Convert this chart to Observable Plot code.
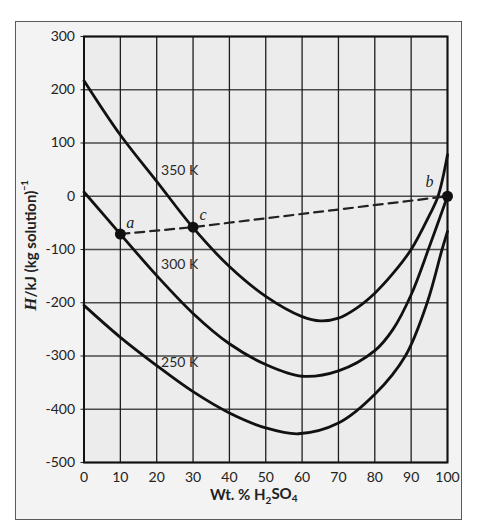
<!DOCTYPE html>
<html>
<head>
<meta charset="utf-8">
<script src="https://cdn.jsdelivr.net/npm/d3@7"></script>
<script src="https://cdn.jsdelivr.net/npm/@observablehq/plot@0.6"></script>
<style>
  html, body { margin: 0; padding: 0; background: #fff; }
  #wrap { position: relative; width: 478px; height: 530px; }
  #panel { position: absolute; left: 15px; top: 21px; width: 445px; height: 497px;
           border: 1px solid #5a5a5a; background: #f3f3f3; }
  #chart { position: absolute; left: 0; top: 0; }
</style>
</head>
<body>
<div id="wrap"><div id="panel"></div><div id="chart"></div></div>
<script>
// Tick values
const xTicks = [0, 10, 20, 30, 40, 50, 60, 70, 80, 90, 100];
const yTicks = [300, 200, 100, 0, -100, -200, -300, -400, -500];

// 350 K isotherm
const wt350 = [0, 10, 20, 30, 40, 50, 60, 65, 70, 75, 80, 85, 90, 95, 97.4, 100];
const h350  = [217, 115, 28, -59, -132, -188, -226, -234, -229, -210, -182, -145, -100, -36, 0, 78];
// 300 K isotherm
const wt300 = [0, 10, 20, 30, 40, 50, 60, 70, 80, 85, 90, 95, 100];
const h300  = [8, -71, -149, -220, -277, -316, -338, -328, -290, -250, -185, -95, 0];
// 250 K isotherm
const wt250 = [0, 10, 20, 30, 40, 50, 59, 70, 80, 88.4, 94.4, 98.5, 100];
const h250  = [-205, -265, -318, -367, -407, -435, -446, -426, -372, -300, -200, -100, -66];

// Mixing points a, c, b
const ptNames = ["a", "c", "b"];
const ptWt = [10, 30, 100];
const ptH  = [-71, -58, 0];
const ptDx = [10, 10, -18];
const ptDy = [-11, -12, -14];

// Curve labels
const labNames = ["350 K", "300 K", "250 K"];
const labWt = [21.2, 21.2, 21.2];
const labH  = [48, -128, -312];

const series = [
  {T: "350 K", wt: wt350, h: h350},
  {T: "300 K", wt: wt300, h: h300},
  {T: "250 K", wt: wt250, h: h250}
];
const curveRows = series.flatMap(s => s.wt.map((w, i) => ({T: s.T, wt: w, h: s.h[i]})));
const pts = ptNames.map((n, i) => ({name: n, wt: ptWt[i], h: ptH[i]}));
const labs = labNames.map((n, i) => ({name: n, wt: labWt[i], h: labH[i]}));

const YTITLE = "H/kJ (kg solution)-1";
const XTITLE = "Wt. % H2SO4";

const chart = Plot.plot({
  width: 478,
  height: 530,
  marginLeft: 83.5,
  marginRight: 31,
  marginTop: 36,
  marginBottom: 68,
  style: {background: "transparent", fontFamily: "Lato, 'Open Sans', sans-serif", fontSize: "14px", color: "#222"},
  x: {domain: [0, 100]},
  y: {domain: [-500, 300]},
  marks: [
    Plot.frame({fill: "#ececec"}),
    Plot.gridY(yTicks, {stroke: "#4a4a4a", strokeOpacity: 1, strokeWidth: 1.4}),
    Plot.gridX(xTicks, {stroke: "#1e1e1e", strokeOpacity: 1, strokeWidth: 1.3}),
    Plot.axisX(xTicks, {tickSize: 0, tickPadding: 10, fontSize: 14, tickFormat: d => String(d), label: null}),
    Plot.axisY(yTicks, {tickSize: 3, tickPadding: 6, fontSize: 14, tickFormat: d => String(d), label: null, stroke: "#222"}),
    Plot.line(curveRows, {x: "wt", y: "h", z: "T", curve: "catmull-rom", stroke: "#111", strokeWidth: 2.8}),
    Plot.line(pts, {x: "wt", y: "h", stroke: "#222", strokeWidth: 2.2, strokeDasharray: "9,6"}),
    Plot.dot(pts, {x: "wt", y: "h", r: 5.5, fill: "#111", stroke: null}),
    Plot.text(pts, {x: "wt", y: "h", text: "name", fontFamily: "'Liberation Serif', 'DejaVu Serif', serif", fontStyle: "italic", fontSize: 16, fill: "#222"}),
    Plot.text(labs, {x: "wt", y: "h", text: "name", textAnchor: "start", fontSize: 14, fill: "#2a2a2a"}),
    Plot.text([YTITLE], {frameAnchor: "left", textAnchor: "middle", lineAnchor: "middle", dx: -53, dy: -4, rotate: -90, fontSize: 15, fontWeight: "bold", fill: "#222"}),
    Plot.text([XTITLE], {frameAnchor: "bottom", textAnchor: "middle", lineAnchor: "middle", dx: -12, dy: 33, fontSize: 15, fontWeight: "bold", fill: "#222"}),
    Plot.frame({stroke: "#111", strokeWidth: 2})
  ]
});

// apply per-point label offsets (a, b, c)
const svg = d3.select(chart);
svg.selectAll("text").filter(function () { return ptNames.includes(this.textContent); })
  .each(function () {
    const i = ptNames.indexOf(this.textContent);
    const t = d3.select(this);
    const tr = t.attr("transform") || "";
    t.attr("transform", tr + ` translate(${ptDx[i]},${ptDy[i]})`);
  });

// rich y-axis title
svg.selectAll("text").filter(function () { return this.textContent === YTITLE; })
  .each(function () {
    const t = d3.select(this);
    t.text(null);
    t.append("tspan").attr("font-family", "'Liberation Serif', serif").attr("font-style", "italic").attr("font-size", 17).text("H");
    t.append("tspan").text("/kJ (kg solution)");
    t.append("tspan").attr("font-size", 9).attr("dy", "-0.9em").text("\u2212" + "1");
  });

// rich x-axis title
svg.selectAll("text").filter(function () { return this.textContent === XTITLE; })
  .each(function () {
    const t = d3.select(this);
    t.text(null);
    t.append("tspan").text("Wt. % H");
    t.append("tspan").attr("font-size", 10).attr("dy", "0.35em").text("2");
    t.append("tspan").attr("dy", "-0.35em").text("SO");
    t.append("tspan").attr("font-size", 10).attr("dy", "0.35em").text("4");
  });

document.getElementById("chart").appendChild(chart);
</script>
</body>
</html>
